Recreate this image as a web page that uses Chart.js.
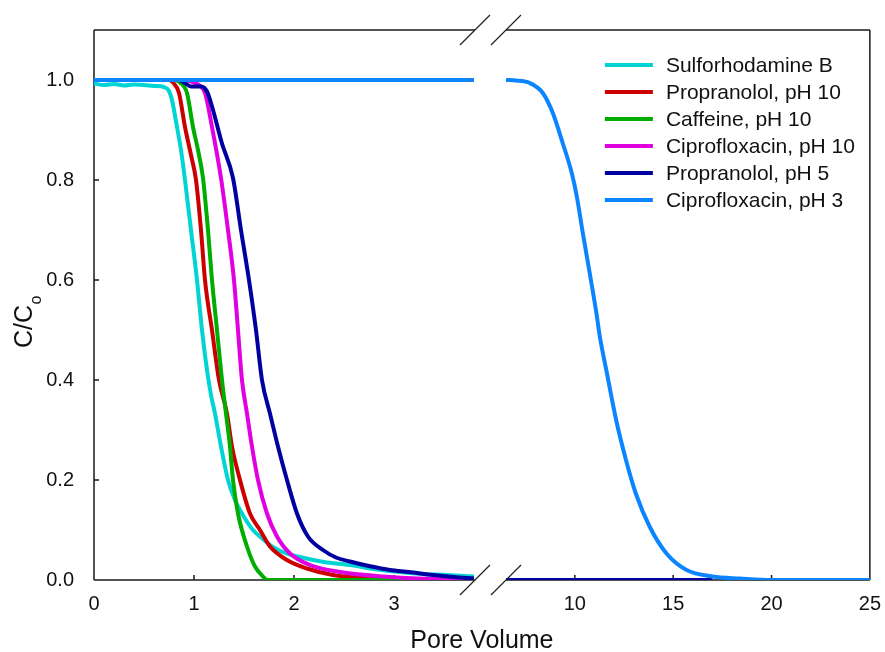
<!DOCTYPE html>
<html>
<head>
<meta charset="utf-8">
<script src="https://cdn.jsdelivr.net/npm/chart.js@4/dist/chart.umd.min.js"></script>
<style>
  html, body { margin: 0; padding: 0; background: #fff; }
  #wrap { width: 885px; height: 652px; }
</style>
</head>
<body>
<div id="wrap"><canvas id="c" width="885" height="652"></canvas></div>
<script>
// Breakthrough curves: C/Co versus pore volume

const SERIES_NAMES = [
  'Sulforhodamine B',
  'Propranolol, pH 10',
  'Caffeine, pH 10',
  'Ciprofloxacin, pH 10',
  'Propranolol, pH 5',
  'Ciprofloxacin, pH 3'
];
const SERIES_COLORS = ['#00d4d4', '#cc0000', '#00ad00', '#e000e0', '#0000a0', '#0a84ff'];

// pore volume (x) and relative concentration (y); null marks the axis break
const sulfoX = [0, 0.1, 0.2, 0.3, 0.4, 0.5, 0.6, 0.7, 0.75, 0.78, 0.83, 0.87, 0.91, 0.97, 1.03, 1.08, 1.13, 1.17, 1.21, 1.27, 1.34, 1.41, 1.48, 1.59, 1.7, 1.78, 1.9, 2.06, 2.3, 2.56, 2.8, 3.06, 3.3, 3.53, 3.8];
const sulfoY = [0.993, 0.99, 0.992, 0.989, 0.991, 0.99, 0.988, 0.986, 0.978, 0.96, 0.906, 0.86, 0.80, 0.70, 0.60, 0.50, 0.42, 0.37, 0.333, 0.267, 0.20, 0.16, 0.133, 0.10, 0.08, 0.067, 0.055, 0.046, 0.036, 0.03, 0.022, 0.016, 0.012, 0.01, 0.007];

const propr10X = [0, 0.5, 0.75, 0.79, 0.85, 0.91, 0.97, 1.02, 1.07, 1.11, 1.18, 1.25, 1.33, 1.38, 1.46, 1.56, 1.66, 1.76, 1.93, 2.13, 2.39, 2.73, 3.0, 3.4, 3.8, 5, 6.5, 9];
const propr10Y = [1, 1, 1, 0.995, 0.974, 0.906, 0.85, 0.80, 0.70, 0.60, 0.50, 0.40, 0.333, 0.267, 0.20, 0.133, 0.10, 0.067, 0.04, 0.023, 0.01, 0.003, 0.001, 0, 0, null, 0, 0];

const caffX = [0, 0.5, 0.8, 0.86, 0.93, 0.99, 1.04, 1.09, 1.14, 1.18, 1.23, 1.28, 1.32, 1.36, 1.39, 1.44, 1.53, 1.61, 1.69, 1.73, 2.5, 3.8, 5, 6.5, 9];
const caffY = [1, 1, 1, 0.995, 0.974, 0.906, 0.86, 0.804, 0.70, 0.60, 0.50, 0.40, 0.333, 0.267, 0.20, 0.133, 0.067, 0.027, 0.007, 0, 0, 0, null, 0, 0];

const cipro10X = [0, 0.5, 0.9, 0.99, 1.05, 1.11, 1.18, 1.27, 1.34, 1.40, 1.44, 1.48, 1.53, 1.58, 1.64, 1.73, 1.83, 1.96, 2.16, 2.43, 2.89, 3.39, 3.8, 5, 6.5, 9];
const cipro10Y = [1, 1, 1, 0.996, 0.99, 0.974, 0.906, 0.804, 0.70, 0.60, 0.50, 0.40, 0.333, 0.267, 0.20, 0.133, 0.087, 0.053, 0.03, 0.017, 0.007, 0.002, 0.001, null, 0, 0];

const propr5X = [0, 0.5, 0.85, 0.91, 0.97, 1.07, 1.13, 1.19, 1.28, 1.39, 1.47, 1.55, 1.62, 1.68, 1.76, 1.84, 1.93, 2.03, 2.14, 2.29, 2.42, 2.56, 2.75, 2.96, 3.15, 3.39, 3.6, 3.8, 5, 6.5, 17];
const propr5Y = [1, 1, 1, 0.994, 0.987, 0.987, 0.977, 0.94, 0.873, 0.804, 0.70, 0.60, 0.50, 0.40, 0.333, 0.267, 0.20, 0.133, 0.087, 0.06, 0.045, 0.037, 0.028, 0.02, 0.016, 0.01, 0.006, 0.003, null, 0, 0];

const cipro3X = [0, 3.8, 5, 6.5, 7.0, 7.71, 8.37, 8.88, 9.39, 9.85, 10.1, 10.41, 10.76, 11.1, 11.27, 11.6, 12.1, 12.6, 13.1, 13.8, 14.66, 15.68, 17.0, 18.4, 20, 25];
const cipro3Y = [1, 1, null, 1, 0.999, 0.994, 0.974, 0.934, 0.873, 0.813, 0.767, 0.693, 0.613, 0.533, 0.487, 0.42, 0.32, 0.24, 0.173, 0.107, 0.053, 0.02, 0.007, 0.003, 0, 0];

const X_TICKS = [0, 1, 2, 3, 10, 15, 20, 25];
const Y_TICKS = [0, 0.2, 0.4, 0.6, 0.8, 1.0];

// broken x axis: [0, LEFT_MAX] then [RIGHT_MIN, X_MAX]
const LEFT_MAX = 3.81, RIGHT_MIN = 6.5, X_MAX = 25;
const LEFT_FRAC = 0.491, RIGHT_FRAC = 0.531;

class BrokenLinearScale extends Chart.LinearScale {
  static id = 'brokenLinear';
  static defaults = {};
  _toDecimal(v) {
    if (v <= LEFT_MAX) return (v / LEFT_MAX) * LEFT_FRAC;
    if (v >= RIGHT_MIN) return RIGHT_FRAC + (v - RIGHT_MIN) / (X_MAX - RIGHT_MIN) * (1 - RIGHT_FRAC);
    return LEFT_FRAC + (v - LEFT_MAX) / (RIGHT_MIN - LEFT_MAX) * (RIGHT_FRAC - LEFT_FRAC);
  }
  getPixelForValue(v) {
    if (v === null || v === undefined || isNaN(v)) return NaN;
    return this.getPixelForDecimal(this._toDecimal(v));
  }
  getValueForPixel(p) {
    const d = this.getDecimalForPixel(p);
    if (d <= LEFT_FRAC) return d / LEFT_FRAC * LEFT_MAX;
    if (d >= RIGHT_FRAC) return RIGHT_MIN + (d - RIGHT_FRAC) / (1 - RIGHT_FRAC) * (X_MAX - RIGHT_MIN);
    return LEFT_MAX + (d - LEFT_FRAC) / (RIGHT_FRAC - LEFT_FRAC) * (RIGHT_MIN - LEFT_MAX);
  }
}
Chart.register(BrokenLinearScale);

const FONT = '"Liberation Sans", Arial, Helvetica, sans-serif';
const xs = [sulfoX, propr10X, caffX, cipro10X, propr5X, cipro3X];
const ys = [sulfoY, propr10Y, caffY, cipro10Y, propr5Y, cipro3Y];

const datasets = SERIES_NAMES.map((name, i) => ({
  label: name,
  data: xs[i].map((x, k) => ({ x: x, y: ys[i][k] })),
  borderColor: SERIES_COLORS[i],
  backgroundColor: SERIES_COLORS[i],
  borderWidth: 4,
  pointRadius: 0,
  fill: false,
  spanGaps: false,
  cubicInterpolationMode: 'monotone',
  order: SERIES_NAMES.length - 1 - i
}));

const decorPlugin = {
  id: 'decor',
  beforeDatasetsDraw(chart) {
    const { ctx, chartArea: a, scales: { x, y } } = chart;
    const bL = x.getPixelForValue(LEFT_MAX), bR = x.getPixelForValue(RIGHT_MIN);
    ctx.save();
    ctx.strokeStyle = '#1a1a1a';
    ctx.lineWidth = 1.5;
    ctx.beginPath();
    ctx.moveTo(a.left, a.top); ctx.lineTo(a.left, a.bottom);
    ctx.moveTo(a.right, a.top); ctx.lineTo(a.right, a.bottom);
    for (const yy of [a.top, a.bottom]) {
      ctx.moveTo(a.left, yy); ctx.lineTo(bL, yy);
      ctx.moveTo(bR, yy); ctx.lineTo(a.right, yy);
    }
    x.ticks.forEach(t => {
      const px = x.getPixelForValue(t.value);
      ctx.moveTo(px, a.bottom); ctx.lineTo(px, a.bottom - 5);
    });
    y.ticks.forEach(t => {
      const py = y.getPixelForValue(t.value);
      ctx.moveTo(a.left, py); ctx.lineTo(a.left + 5, py);
    });
    ctx.stroke();
    ctx.restore();
  },
  afterDatasetsDraw(chart) {
    const { ctx, chartArea: a, scales: { x } } = chart;
    const bL = x.getPixelForValue(LEFT_MAX), bR = x.getPixelForValue(RIGHT_MIN);
    ctx.save();
    // break marks
    ctx.strokeStyle = '#222';
    ctx.lineWidth = 1.2;
    ctx.beginPath();
    for (const yy of [a.top, a.bottom]) {
      for (const xx of [bL, bR]) {
        ctx.moveTo(xx - 15, yy + 15);
        ctx.lineTo(xx + 15, yy - 15);
      }
    }
    ctx.stroke();

    // legend
    ctx.font = '21px ' + FONT;
    ctx.textBaseline = 'middle';
    ctx.textAlign = 'left';
    chart.data.datasets.forEach((ds, i) => {
      const yy = a.top + 35 + i * 27;
      ctx.strokeStyle = ds.borderColor;
      ctx.lineWidth = 4;
      ctx.beginPath();
      ctx.moveTo(a.right - 265, yy);
      ctx.lineTo(a.right - 217, yy);
      ctx.stroke();
      ctx.fillStyle = '#111';
      ctx.fillText(ds.label, a.right - 204, yy + 1);
    });

    // y axis title with subscript
    ctx.translate(32, 348);
    ctx.rotate(-Math.PI / 2);
    ctx.textBaseline = 'alphabetic';
    ctx.fillStyle = '#111';
    ctx.font = '25px ' + FONT;
    ctx.fillText('C/C', 0, 0);
    const w = ctx.measureText('C/C').width;
    ctx.font = '16px ' + FONT;
    ctx.fillText('o', w + 0.5, 9);
    ctx.restore();
  }
};

new Chart(document.getElementById('c'), {
  type: 'line',
  data: { datasets: datasets },
  options: {
    responsive: false,
    animation: false,
    devicePixelRatio: 1,
    events: [],
    layout: { padding: { left: 0, top: 30, right: 11, bottom: 0 } },
    plugins: { legend: { display: false }, tooltip: { enabled: false } },
    scales: {
      x: {
        type: 'brokenLinear',
        position: 'bottom',
        min: 0,
        max: X_MAX,
        grid: { display: false },
        border: { display: false },
        afterBuildTicks: s => { s.ticks = X_TICKS.map(v => ({ value: v })); },
        afterFit: s => { s.height = 72; },
        ticks: {
          autoSkip: false,
          maxRotation: 0,
          padding: 4,
          color: '#111',
          font: { family: FONT, size: 20 },
          callback: v => String(v)
        },
        title: {
          display: true,
          text: 'Pore Volume',
          color: '#111',
          font: { family: FONT, size: 25 },
          padding: { top: 0, bottom: -4 }
        }
      },
      y: {
        type: 'linear',
        position: 'left',
        min: 0,
        max: 1.1,
        grid: { display: false },
        border: { display: false },
        afterBuildTicks: s => { s.ticks = Y_TICKS.map(v => ({ value: v })); },
        afterFit: s => { s.width = 94; },
        ticks: {
          padding: 12,
          color: '#111',
          font: { family: FONT, size: 20 },
          callback: v => Number(v).toFixed(1)
        }
      }
    }
  },
  plugins: [decorPlugin]
});
</script>
</body>
</html>
